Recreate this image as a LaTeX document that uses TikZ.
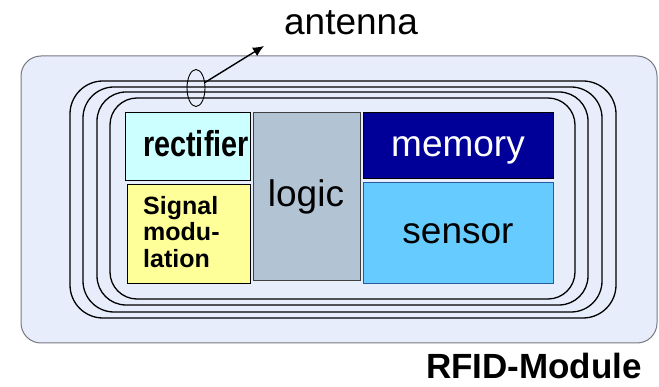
\documentclass[tikz,border=0pt]{standalone}
\usepackage{fontspec}
\setmainfont{Liberation Sans}
\usetikzlibrary{shapes.geometric,arrows.meta}
\definecolor{outerfill}{RGB}{232,237,252}
\definecolor{outerdraw}{RGB}{120,120,130}
\definecolor{rectfill}{RGB}{204,255,255}
\definecolor{sigfill}{RGB}{255,255,153}
\definecolor{logicfill}{RGB}{178,196,212}
\definecolor{memfill}{RGB}{0,0,153}
\definecolor{sensfill}{RGB}{102,204,255}
\definecolor{sensdraw}{RGB}{40,90,160}
\tikzset{
  block/.style={draw=black, line width=1.3pt, inner sep=0pt, anchor=north west},
  loop/.style={draw=black, line width=1.3pt},
  bigtext/.style={font=\fontsize{37}{40}\selectfont, inner sep=0pt, anchor=base},
  smalltext/.style={font=\fontsize{25}{27}\selectfont\bfseries, inner sep=0pt, anchor=base west}
}
\begin{document}
\begin{tikzpicture}[x=1pt,y=-1pt]
\useasboundingbox (0,0) rectangle (659,387);
% outer module
\draw[fill=outerfill, draw=outerdraw, line width=1pt, rounded corners=20pt] (21,56) rectangle (657,343);
% antenna loops
\draw[loop, rounded corners=33pt] (70,81) rectangle (616,318);
\draw[loop, rounded corners=31pt] (83,87) rectangle (602,312);
\draw[loop, rounded corners=29pt] (97,92) rectangle (588,305);
\draw[loop, rounded corners=27pt] (110,98) rectangle (575,299);
% blocks
\node[block, fill=rectfill, minimum width=125pt, minimum height=68pt] (rect) at (125,112) {};
\node[block, fill=sigfill, minimum width=123pt, minimum height=99pt] (sig) at (127,184) {};
\node[block, draw=black!75, fill=logicfill, minimum width=107pt, minimum height=168pt] (logic) at (253,112) {};
\node[block, fill=memfill, minimum width=190pt, minimum height=66pt] (mem) at (363,112) {};
\node[block, draw=sensdraw, fill=sensfill, minimum width=190pt, minimum height=101pt] (sens) at (363,182) {};
% texts
\node[inner sep=0pt, anchor=base] (rectt) at (196,157) {\scalebox{0.8}[1]{\fontsize{36}{40}\selectfont\bfseries rectifier}};
\node[smalltext] (sig1) at (143,215) {Signal};
\node[smalltext] (sig2) at (143,241) {modu-};
\node[smalltext] (sig3) at (143,268) {lation};
\node[bigtext] (logict) at (306,207) {logic};
\node[bigtext, text=white] (memt) at (458,157) {memory};
\node[bigtext] (senst) at (458,244) {sensor};
\node[bigtext] (ant) at (351,35) {antenna};
\node[font=\fontsize{35}{38}\selectfont\bfseries, inner sep=0pt, text depth=0pt, anchor=base east] (rfid) at (642,379) {RFID-Module};
% antenna pointer
\node[draw=black, line width=0.9pt, ellipse, minimum width=18pt, minimum height=37pt, inner sep=0pt] (ell) at (196,88) {};
\coordinate (tip) at (264,46);
\draw[line width=1.4pt, -{Latex[length=11pt,width=10pt]}] (ell) -- (tip);
\end{tikzpicture}
\end{document}
